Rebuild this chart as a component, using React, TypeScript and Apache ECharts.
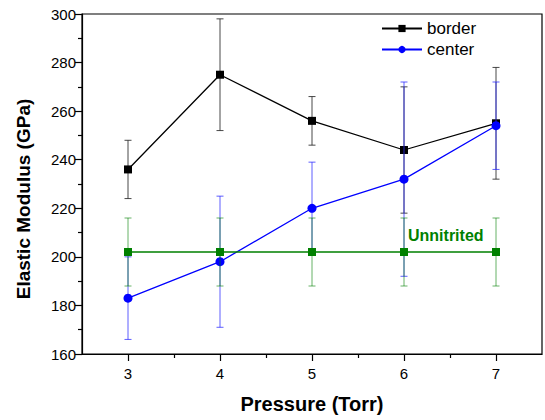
import React, { useEffect, useRef } from "react";
import * as echarts from "echarts";

const pressures = [3, 4, 5, 6, 7];
const borderValues = [236, 275, 256, 244, 255];
const borderErrors = [12, 23, 10, 26, 23];
const centerValues = [183, 198, 220, 232, 254];
const centerErrors = [17, 27, 19, 40, 18];
const unnitritedValues = [202, 202, 202, 202, 202];
const unnitritedErrors = [14, 14, 14, 14, 14];
const xMajorTicks = [3, 4, 5, 6, 7];
const xMinorTicks = [3.5, 4.5, 5.5, 6.5];

const FONT = "'Liberation Sans', Arial, sans-serif";

function errorSeries(values: number[], errors: number[], color: string, z: number) {
  return {
    type: "custom",
    xAxisIndex: 0,
    yAxisIndex: 0,
    z,
    silent: true,
    data: pressures.map((p, i) => [p, values[i] - errors[i], values[i] + errors[i]]),
    renderItem: (params: any, api: any) => {
      const x = api.value(0);
      const lo = api.value(1);
      const hi = api.value(2);
      const top = api.coord([x, hi]);
      const bot = api.coord([x, lo]);
      const hw = 3.5;
      const style = { stroke: color, lineWidth: 1 };
      return {
        type: "group",
        children: [
          { type: "line", shape: { x1: top[0], y1: top[1], x2: bot[0], y2: bot[1] }, style },
          { type: "line", shape: { x1: top[0] - hw, y1: top[1], x2: top[0] + hw, y2: top[1] }, style },
          { type: "line", shape: { x1: bot[0] - hw, y1: bot[1], x2: bot[0] + hw, y2: bot[1] }, style },
        ],
      };
    },
  };
}

export default function App() {
  const ref = useRef<HTMLDivElement>(null);
  useEffect(() => {
    if (!ref.current) return;
    const chart = echarts.init(ref.current, null, { renderer: "svg" });
    chart.setOption({
      animation: false,
      backgroundColor: "#fff",
      grid: {
        left: 82,
        right: 3,
        top: 14,
        bottom: 66,
        show: true,
        borderColor: "#000",
        borderWidth: 1.2,
        backgroundColor: "transparent",
      },
      legend: {
        orient: "vertical",
        left: 376,
        top: 15,
        itemWidth: 40,
        itemHeight: 9,
        itemGap: 4,
        textStyle: { fontFamily: FONT, fontSize: 17, color: "#000" },
        data: ["border", "center"],
      },
      xAxis: [
        {
          type: "value",
          min: 2.5,
          max: 7.5,
          position: "bottom",
          splitLine: { show: false },
          axisLine: { show: true, onZero: false, lineStyle: { color: "#000", width: 1.2 } },
          axisTick: {
            show: true,
            customValues: xMajorTicks,
            length: 7,
            inside: false,
            lineStyle: { color: "#000", width: 1.2 },
          },
          axisLabel: {
            customValues: xMajorTicks,
            fontFamily: FONT,
            fontSize: 15,
            color: "#000",
            margin: 12,
          },
          name: "Pressure (Torr)",
          nameLocation: "middle",
          nameGap: 40,
          nameTextStyle: { fontFamily: FONT, fontSize: 20, fontWeight: "bold", color: "#000" },
        },
        {
          type: "value",
          min: 2.5,
          max: 7.5,
          position: "bottom",
          splitLine: { show: false },
          axisLine: { show: false, onZero: false },
          axisTick: {
            show: true,
            customValues: xMinorTicks,
            length: 4,
            lineStyle: { color: "#000", width: 1.2 },
          },
          axisLabel: { show: false },
        },
      ],
      yAxis: {
        type: "value",
        min: 160,
        max: 300,
        interval: 20,
        splitLine: { show: false },
        axisLine: { show: true, onZero: false, lineStyle: { color: "#000", width: 1.2 } },
        axisTick: { show: true, length: 7, lineStyle: { color: "#000", width: 1.2 } },
        minorTick: { show: true, splitNumber: 2, length: 4, lineStyle: { color: "#000", width: 1.2 } },
        axisLabel: { fontFamily: FONT, fontSize: 15, color: "#000", margin: 6 },
      },
      graphic: [
        {
          type: "text",
          x: 23,
          y: 199,
          rotation: Math.PI / 2,
          style: {
            text: "Elastic Modulus (GPa)",
            fill: "#000",
            font: `bold 19px ${FONT}`,
            textAlign: "center",
            textVerticalAlign: "middle",
          },
        },
        {
          type: "text",
          left: 408,
          top: 227,
          style: {
            text: "Unnitrited",
            fill: "#008000",
            font: `bold 16px ${FONT}`,
          },
        },
      ],
      series: [
        errorSeries(borderValues, borderErrors, "rgba(40,40,40,0.85)", 2),
        {
          name: "border",
          type: "line",
          z: 3,
          data: pressures.map((p, i) => [p, borderValues[i]]),
          symbol: "rect",
          symbolSize: 8,
          itemStyle: { color: "#000" },
          lineStyle: { color: "#000", width: 1.3 },
        },
        errorSeries(centerValues, centerErrors, "rgba(40,40,255,0.75)", 4),
        {
          name: "center",
          type: "line",
          z: 5,
          data: pressures.map((p, i) => [p, centerValues[i]]),
          symbol: "circle",
          symbolSize: 9,
          itemStyle: { color: "#0000ff" },
          lineStyle: { color: "#0000ff", width: 1.3 },
        },
        errorSeries(unnitritedValues, unnitritedErrors, "rgba(0,128,0,0.6)", 6),
        {
          name: "unnitrited",
          type: "line",
          z: 7,
          data: pressures.map((p, i) => [p, unnitritedValues[i]]),
          symbol: "rect",
          symbolSize: 8,
          itemStyle: { color: "#008000" },
          lineStyle: { color: "#008000", width: 1.3 },
        },
      ],
    });
    return () => chart.dispose();
  }, []);
  return (
    <div
      ref={ref}
      style={{ position: "fixed", left: 0, top: 0, width: 545, height: 420 }}
    />
  );
}
